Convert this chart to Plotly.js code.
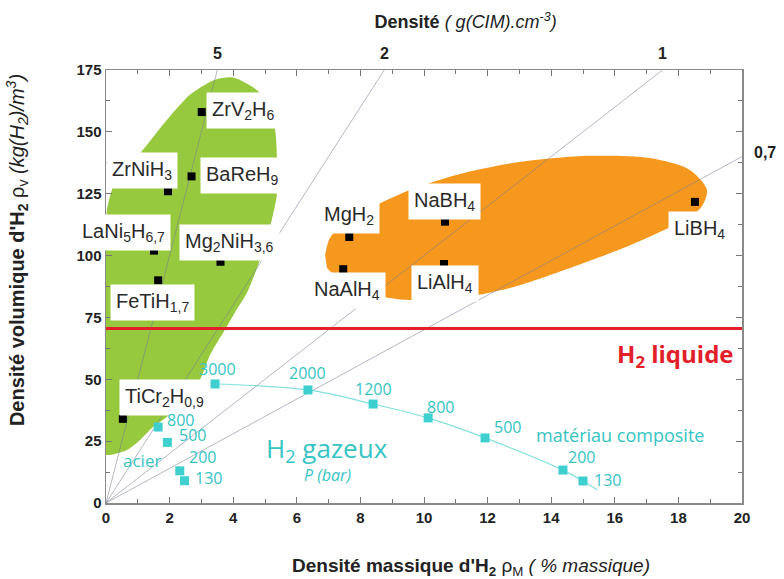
<!DOCTYPE html>
<html><head><meta charset="utf-8">
<script src="https://cdn.plot.ly/plotly-3.0.1.min.js"></script>
<style>html,body{margin:0;padding:0;background:#fff}#chart{width:784px;height:579px}</style>
</head><body><div id="chart"></div>
<script>
// ---------- data ----------
const hydrideNames = ['ZrV<sub>2</sub>H<sub>6</sub>','ZrNiH<sub>3</sub>','BaReH<sub>9</sub>','LaNi<sub>5</sub>H<sub>6,7</sub>',
  'Mg<sub>2</sub>NiH<sub>3,6</sub>','FeTiH<sub>1,7</sub>','TiCr<sub>2</sub>H<sub>0,9</sub>',
  'MgH<sub>2</sub>','NaBH<sub>4</sub>','NaAlH<sub>4</sub>','LiAlH<sub>4</sub>','LiBH<sub>4</sub>'];
const hydrideMass = [3.01, 1.95, 2.69, 1.51, 3.6, 1.64, 0.53, 7.65, 10.66, 7.46, 10.63, 18.52];
const hydrideVol  = [158, 126, 132, 102, 97.5, 90, 34, 107.5, 113.7, 94.5, 96.6, 121.7];

const compositeP    = ['3000','2000','1200','800','500','200','130'];
const compositeMass = [3.43, 6.35, 8.4, 10.13, 11.92, 14.37, 15.0];
const compositeVol  = [48.1, 45.7, 40.0, 34.4, 26.3, 13.3, 8.9];
const compositeTailMass = [15.45];
const compositeTailVol  = [5.3];

const steelP    = ['800','500','200','130'];
const steelMass = [1.64, 1.93, 2.32, 2.47];
const steelVol  = [30.7, 24.5, 13.0, 9.0];

const densityLabels = ['5','2','1','0,7'];
const densityValues = [5, 2, 1, 0.7];
const liquidH2 = 70.5;

const intermetallicZoneMass = [0, 0.13, 0.66, 1.07, 1.48, 2.07, 2.6, 2.96, 3.27, 3.74, 4.1, 4.43, 4.84, 5.16, 5.38, 5.38, 5.3, 4.84, 4.5, 4.0, 3.4, 2.64, 1.86, 1.16, 0.6, 0.22, 0.03, 0];
const intermetallicZoneVol  = [19.4, 19.4, 21.4, 25.5, 30.7, 36.4, 44, 50, 59.8, 70, 78, 84.9, 98.2, 111.6, 125.3, 138.6, 152, 165.7, 169, 172, 171, 165, 154, 142.7, 135, 127.7, 118.4, 112];

const complexZoneMass = [6.89, 7.04, 7.52, 8.3, 9.56, 11.13, 13.0, 15.2, 17.1, 18.36, 18.9, 18.7, 18.05, 16.5, 14.6, 12.7, 11.13, 9.56, 8.3, 7.36, 6.95];
const complexZoneVol  = [100.2, 107.1, 113.6, 119.2, 126.5, 133, 137.8, 140.3, 139.4, 134.6, 126.5, 119.2, 113.6, 104.3, 95, 86.9, 82.9, 82, 84.5, 90.1, 95];

// ---------- styling / label placement (pixels) ----------
const hydrideLabelShift = [[41,2],[-26,21],[50,1],[-31,18],[9,19],[-6,-22],[42,21],[0,22],[0,20],[4,-21],[1,-20],[5,-28]];
const compositeLabelShift = [[2,15],[0,17],[0,15],[12,11],[22,11],[19,13],[24,1]];
const steelLabelShift = [[22,7],[25,7],[23,14],[24,3]];

const X_MAX = 20, Y_MAX = 175;
const CYAN = '#3fcfcf', CYAN_TXT = '#36c4c4';
const LBL = {family:'Liberation Sans, Arial, sans-serif', size:20, color:'#2a2a2a'};
const CF = {family:'Open Sans, sans-serif', size:16, color:CYAN_TXT};
const TXT = {family:'Liberation Sans, Arial', color:'#222'};

const traces = [];
traces.push({x:intermetallicZoneMass, y:intermetallicZoneVol, mode:'lines', fill:'toself',
  fillcolor:'#96c93d', line:{width:0, shape:'spline', smoothing:0.7}, hoverinfo:'skip', showlegend:false});
traces.push({x:complexZoneMass, y:complexZoneVol, mode:'lines', fill:'toself',
  fillcolor:'#f7981e', line:{width:0, shape:'spline', smoothing:0.8}, hoverinfo:'skip', showlegend:false});

densityValues.forEach(d => {
  const x1 = Math.min(X_MAX, Y_MAX / (10 * d));
  traces.push({x:[0, x1], y:[0, 10 * d * x1], mode:'lines',
    line:{color:'rgba(120,125,150,0.55)', width:1}, hoverinfo:'skip', showlegend:false});
});

traces.push({x:[0, X_MAX], y:[liquidH2, liquidH2], mode:'lines', line:{color:'#e3202a', width:3}, showlegend:false});

traces.push({x:compositeMass.concat(compositeTailMass), y:compositeVol.concat(compositeTailVol), mode:'lines',
  line:{color:'rgba(80,210,210,0.7)', width:1.2, shape:'spline'}, hoverinfo:'skip', showlegend:false});
traces.push({x:compositeMass, y:compositeVol, mode:'markers', marker:{symbol:'square', size:9, color:CYAN}, showlegend:false});
traces.push({x:steelMass, y:steelVol, mode:'markers', marker:{symbol:'square', size:9, color:CYAN}, showlegend:false});
traces.push({x:hydrideMass, y:hydrideVol, mode:'markers', marker:{symbol:'square', size:8, color:'#000'}, showlegend:false});

const ann = [];
hydrideNames.forEach((n, i) => {
  ann.push({x:hydrideMass[i], y:hydrideVol[i], xref:'x', yref:'y', text:n, showarrow:false,
    xshift:hydrideLabelShift[i][0], yshift:hydrideLabelShift[i][1], font:LBL, bgcolor:'#ffffff', borderpad:5});
});
compositeP.forEach((p, i) => {
  ann.push({x:compositeMass[i], y:compositeVol[i], text:p, showarrow:false,
    xshift:compositeLabelShift[i][0], yshift:compositeLabelShift[i][1], font:CF});
});
steelP.forEach((p, i) => {
  ann.push({x:steelMass[i], y:steelVol[i], text:p, showarrow:false,
    xshift:steelLabelShift[i][0], yshift:steelLabelShift[i][1], font:CF});
});
densityValues.forEach((d, i) => {
  const x1 = Math.min(X_MAX, Y_MAX / (10 * d));
  const y1 = 10 * d * x1;
  if (y1 >= Y_MAX - 0.01) {
    ann.push({x:x1, y:Y_MAX, text:'<b>' + densityLabels[i] + '</b>', showarrow:false, yanchor:'bottom', yshift:6,
      font:Object.assign({size:16}, TXT)});
  } else {
    ann.push({x:x1, y:y1, text:'<b>' + densityLabels[i] + '</b>', showarrow:false, xanchor:'left', xshift:10, yshift:4,
      font:Object.assign({size:16}, TXT)});
  }
});
ann.push({x:19.8, y:59.8, text:'<b>H<sub>2</sub> liquide</b>', showarrow:false, xanchor:'right',
  font:{family:'Open Sans, sans-serif', size:24, color:'#e3202a'}});
ann.push({x:6.95, y:21.8, text:'H<sub>2</sub> gazeux', showarrow:false,
  font:{family:'Open Sans, sans-serif', size:26, color:CYAN_TXT}});
ann.push({x:6.95, y:11.5, text:'<i>P (bar)</i>', showarrow:false,
  font:{family:'Open Sans, sans-serif', size:16, color:CYAN_TXT}});
ann.push({x:16.16, y:27.5, text:'matériau composite', showarrow:false,
  font:{family:'Open Sans, sans-serif', size:18, color:CYAN_TXT}});
ann.push({x:1.13, y:17, text:'acier', showarrow:false, font:{family:'Open Sans, sans-serif', size:17, color:CYAN_TXT}});
// axis titles
ann.push({xref:'paper', yref:'paper', x:0.574, y:-0.148, yanchor:'middle', showarrow:false,
  text:"<b>Densité massique d'H<sub>2</sub></b> ρ<sub>M</sub> <i>( % massique)</i>",
  font:Object.assign({size:19}, TXT)});
ann.push({xref:'paper', yref:'paper', x:-0.14, y:0.584, xanchor:'center', yanchor:'middle', showarrow:false, textangle:-90,
  text:"<b>Densité volumique d'H<sub>2</sub></b> ρ<sub>v</sub> <i>(kg(H<sub>2</sub>)/m<sup>3</sup>)</i>",
  font:Object.assign({size:20}, TXT)});

const axisCommon = {showgrid:false, zeroline:false, showline:true, linecolor:'#8a8a8a', linewidth:1.5,
  mirror:'ticks', ticks:'inside', ticklen:6, tickcolor:'#777', tickwidth:1,
  tickfont:{family:'Liberation Sans, Arial', size:15, color:'#222', weight:'bold'}};

const layout = {
  width:784, height:579, paper_bgcolor:'#fff', plot_bgcolor:'#fff',
  margin:{l:106, r:42, t:70, b:76},
  title:{text:'<b>Densité</b> <i>( g(CIM).cm<sup>-3</sup>)</i>', x:0.594, xanchor:'center', y:0.962, yanchor:'middle',
    font:Object.assign({size:18}, TXT)},
  xaxis:Object.assign({}, axisCommon, {range:[0, X_MAX], dtick:2, tick0:0,
    minor:{dtick:1, ticks:'inside', ticklen:4, tickcolor:'#777'}}),
  yaxis:Object.assign({}, axisCommon, {range:[0, Y_MAX], dtick:25, tick0:0,
    minor:{dtick:12.5, ticks:'inside', ticklen:4, tickcolor:'#777'}}),
  annotations:ann, showlegend:false
};
Plotly.newPlot('chart', traces, layout, {displayModeBar:false, staticPlot:true});
</script></body></html>
